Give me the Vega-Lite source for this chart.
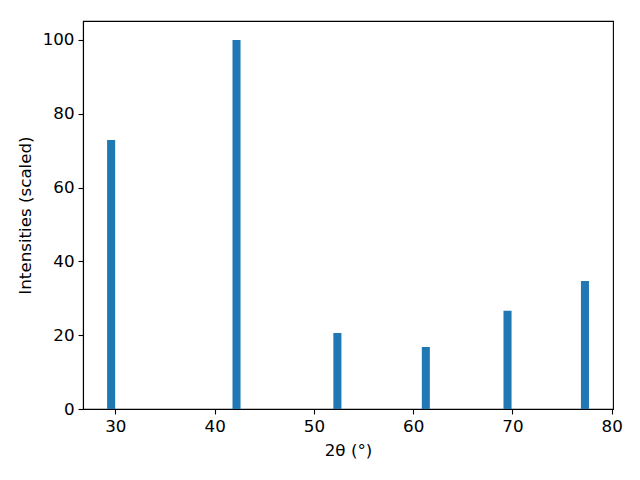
{
  "$schema": "https://vega.github.io/schema/vega-lite/v6.json",
  "autosize": "none",
  "width": 530,
  "height": 388,
  "padding": {"left": 83, "top": 21, "right": 27, "bottom": 71},
  "background": "white",
  "config": {
    "view": {"stroke": "black", "strokeWidth": 1.1},
    "font": "DejaVu Sans",
    "axis": {
      "domainColor": "black",
      "domainWidth": 1.1,
      "tickColor": "black",
      "tickWidth": 1.1,
      "tickSize": 5,
      "labelPadding": 4,
      "labelFont": "DejaVu Sans",
      "labelFontSize": 16.7,
      "labelColor": "black",
      "titleFont": "DejaVu Sans",
      "titleFontSize": 16.7,
      "titleFontWeight": "normal",
      "titleColor": "black",
      "grid": false
    }
  },
  "data": {
    "values": [
      {"lo": 29.17, "hi": 29.98, "intensity": 72.9},
      {"lo": 41.80, "hi": 42.61, "intensity": 100},
      {"lo": 51.96, "hi": 52.77, "intensity": 20.6},
      {"lo": 60.87, "hi": 61.68, "intensity": 16.8},
      {"lo": 69.10, "hi": 69.91, "intensity": 26.6},
      {"lo": 76.90, "hi": 77.71, "intensity": 34.7}
    ]
  },
  "mark": {"type": "bar", "color": "#1f77b4", "binSpacing": 0, "orient": "vertical"},
  "encoding": {
    "x": {
      "field": "lo",
      "type": "quantitative",
      "scale": {"domain": [26.74, 80.13], "nice": false, "zero": false, "padding": 0},
      "axis": {"values": [30, 40, 50, 60, 70, 80], "title": "2θ (°)", "titlePadding": 8, "labelFlush": false}
    },
    "x2": {"field": "hi"},
    "y": {
      "field": "intensity",
      "type": "quantitative",
      "scale": {"domain": [0, 105.14], "nice": false, "padding": 0},
      "axis": {"values": [0, 20, 40, 60, 80, 100], "title": "Intensities (scaled)", "titlePadding": 8, "labelFlush": false}
    },
    "y2": {"datum": 0}
  }
}
